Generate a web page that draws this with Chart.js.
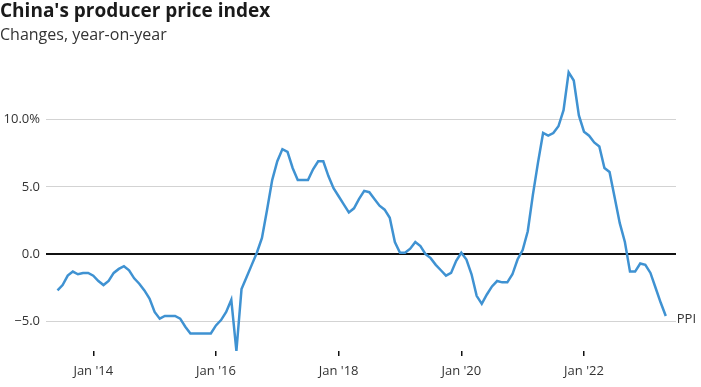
<!DOCTYPE html>
<html>
<head>
<meta charset="utf-8">
<script src="https://cdn.jsdelivr.net/npm/chart.js@4"></script>
<style>
  html, body { margin: 0; padding: 0; background: #fff; }
  #wrap { width: 701px; height: 387px; }
</style>
</head>
<body>
<div id="wrap"><canvas id="chartPPI"></canvas></div>
<script>
// ---- dados: PPI da China, variação anual (%), Jun 2013 - Mai 2023 ----
const mesInicial = 5; // Jun 2013, em meses desde Jan 2013
const ppi = [
  -2.7, -2.3, -1.6, -1.3, -1.5, -1.4, -1.4,                              // 2013 Jun-Dez
  -1.6, -2.0, -2.3, -2.0, -1.4, -1.1, -0.9, -1.2, -1.8, -2.2, -2.7, -3.3, // 2014
  -4.3, -4.8, -4.6, -4.6, -4.6, -4.8, -5.4, -5.9, -5.9, -5.9, -5.9, -5.9, // 2015
  -5.3, -4.9, -4.3, -3.4, -7.2, -2.6, -1.7, -0.8, 0.1, 1.2, 3.3, 5.5,    // 2016
  6.9, 7.8, 7.6, 6.4, 5.5, 5.5, 5.5, 6.3, 6.9, 6.9, 5.8, 4.9,            // 2017
  4.3, 3.7, 3.1, 3.4, 4.1, 4.7, 4.6, 4.1, 3.6, 3.3, 2.7, 0.9,            // 2018
  0.1, 0.1, 0.4, 0.9, 0.6, 0.0, -0.3, -0.8, -1.2, -1.6, -1.4, -0.5,      // 2019
  0.1, -0.4, -1.5, -3.1, -3.7, -3.0, -2.4, -2.0, -2.1, -2.1, -1.5, -0.4, // 2020
  0.3, 1.7, 4.4, 6.8, 9.0, 8.8, 9.0, 9.5, 10.7, 13.5, 12.9, 10.3,        // 2021
  9.1, 8.8, 8.3, 8.0, 6.4, 6.1, 4.2, 2.3, 0.9, -1.3, -1.3, -0.7,         // 2022
  -0.8, -1.4, -2.5, -3.6, -4.6                                           // 2023 Jan-Mai
];
const ticksX = [12, 36, 60, 84, 108];
const rotulosX = ["Jan '14", "Jan '16", "Jan '18", "Jan '20", "Jan '22"];
const ticksY = [-5, 0, 5, 10];
const rotulosY = ['\u22125.0', '0.0', '5.0', '10.0%'];
const nomeSerie = 'PPI';

// ---- cores ----
const CORES = {
  linha: '#3f92d2',
  grade: '#d3d3d3',
  zero:  '#111111',
  texto: '#333333',
  titulo:'#1a1a1a'
};
const FONTE = '"Open Sans", Lato, sans-serif';

const pontos = ppi.map((v, i) => ({ x: mesInicial + i, y: v }));

// rótulo "PPI" ao fim da linha
const rotuloFim = {
  id: 'rotuloFim',
  afterDatasetsDraw(chart) {
    const meta = chart.getDatasetMeta(0);
    const ult = meta.data[meta.data.length - 1];
    const ctx = chart.ctx;
    ctx.save();
    ctx.font = '13px ' + FONTE;
    ctx.fillStyle = CORES.texto;
    ctx.textAlign = 'left';
    ctx.textBaseline = 'middle';
    ctx.fillText(nomeSerie, ult.x + 11, ult.y + 3);
    ctx.restore();
  }
};

new Chart(document.getElementById('chartPPI'), {
  type: 'line',
  data: {
    datasets: [{
      label: nomeSerie,
      data: pontos,
      borderColor: CORES.linha,
      borderWidth: 2.5,
      pointRadius: 0,
      tension: 0,
      fill: false,
      clip: false
    }]
  },
  options: {
    responsive: true,
    maintainAspectRatio: false,
    animation: false,
    layout: { padding: { left: 0, right: 25, top: 0, bottom: 0 } },
    plugins: {
      legend: { display: false },
      tooltip: { enabled: false },
      title: {
        display: true,
        text: "China's producer price index",
        align: 'start',
        color: CORES.titulo,
        font: { family: FONTE, size: 19, weight: 'bold', lineHeight: 1.2 },
        padding: { top: 0, bottom: 2 }
      },
      subtitle: {
        display: true,
        text: 'Changes, year-on-year',
        align: 'start',
        color: CORES.texto,
        font: { family: FONTE, size: 16, lineHeight: 1.2 },
        padding: { top: 1, bottom: 18 }
      }
    },
    scales: {
      x: {
        type: 'linear',
        min: 2.75,
        max: 126,
        border: { display: false },
        grid: { drawOnChartArea: false, drawTicks: true, tickLength: 5, color: CORES.zero, lineWidth: 1.5 },
        afterBuildTicks: (s) => { s.ticks = ticksX.map(v => ({ value: v })); },
        afterFit: (s) => { s.height = 36; },
        ticks: {
          color: CORES.texto,
          font: { family: FONTE, size: 13 },
          padding: 7,
          maxRotation: 0,
          callback: (v) => rotulosX[ticksX.indexOf(v)]
        }
      },
      y: {
        min: -7.2,
        max: 14.2,
        border: { display: false },
        grid: {
          drawTicks: false,
          color: (c) => c.tick && c.tick.value === 0 ? CORES.zero : CORES.grade,
          lineWidth: (c) => c.tick && c.tick.value === 0 ? 2 : 1
        },
        afterBuildTicks: (s) => { s.ticks = ticksY.map(v => ({ value: v })); },
        afterFit: (s) => { s.width = 46; },
        ticks: {
          color: CORES.texto,
          font: { family: FONTE, size: 13 },
          padding: 6,
          callback: (v) => rotulosY[ticksY.indexOf(v)]
        }
      }
    }
  },
  plugins: [rotuloFim]
});
</script>
</body>
</html>
